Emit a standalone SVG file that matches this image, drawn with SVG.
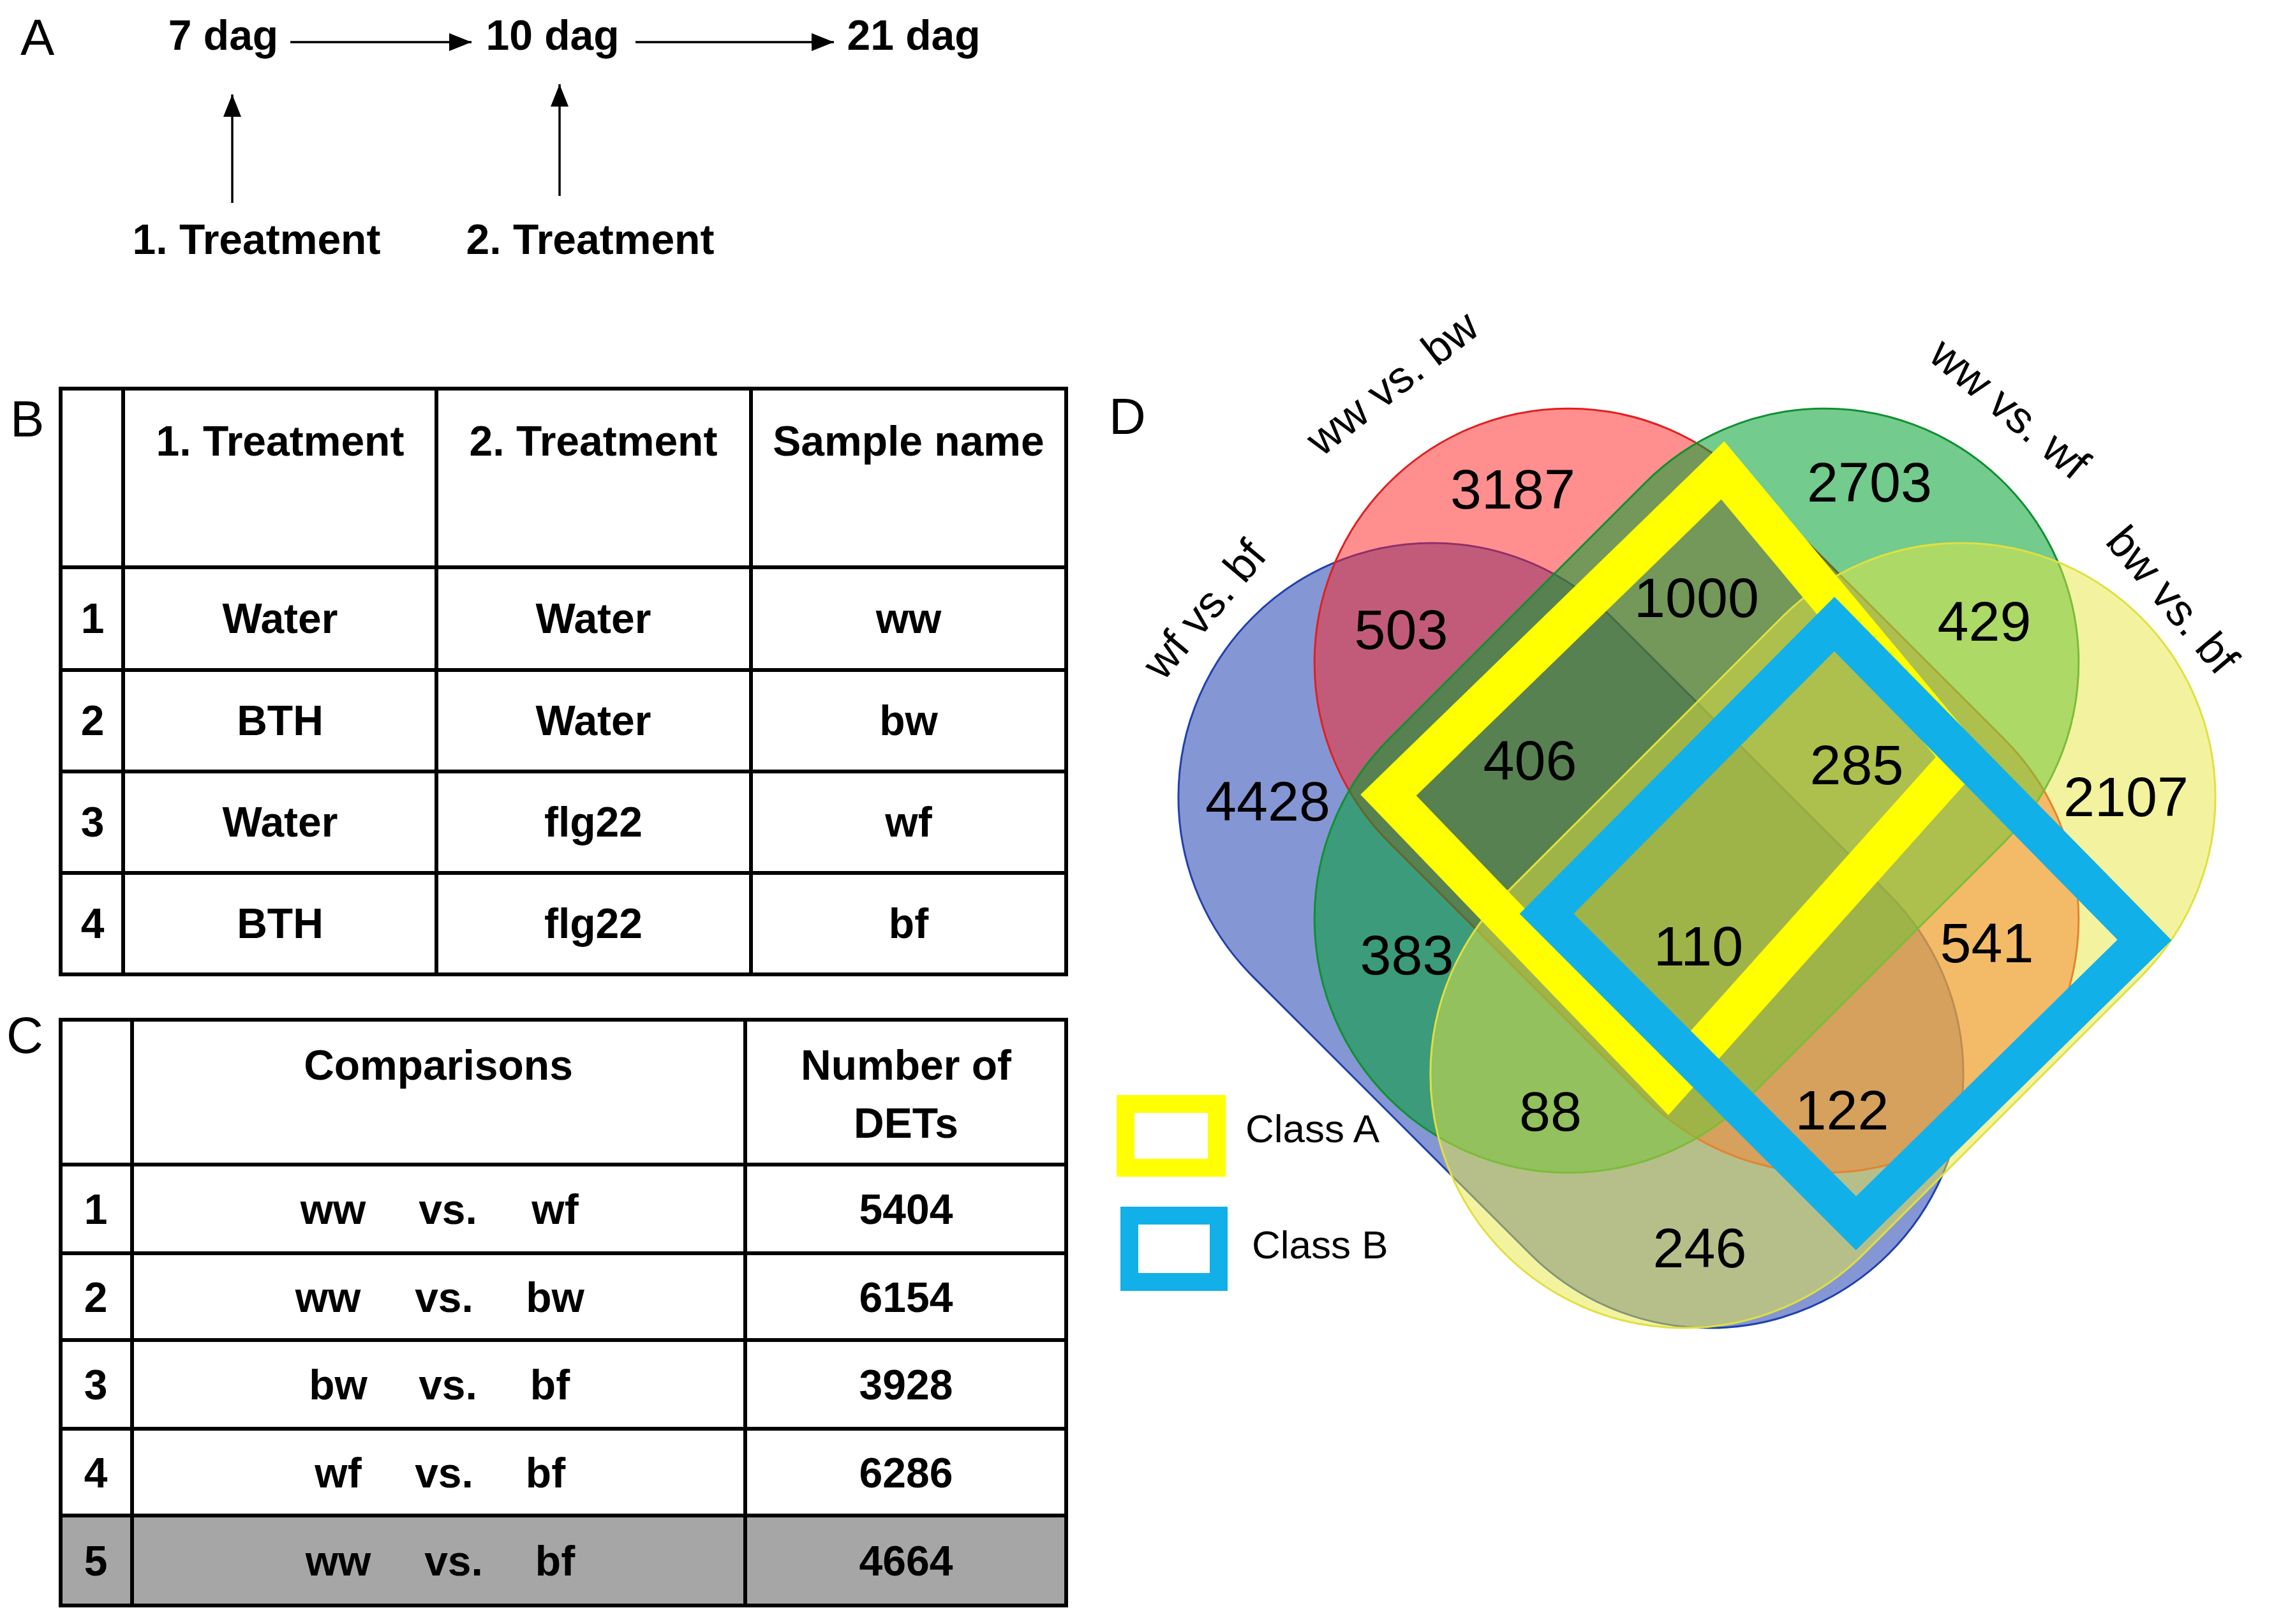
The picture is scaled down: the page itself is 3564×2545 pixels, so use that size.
<svg xmlns="http://www.w3.org/2000/svg" width="3564" height="2545" viewBox="0 0 3564 2545">
<defs>
<style>
.b{font-family:"Liberation Sans",Arial,sans-serif;font-weight:bold;font-size:66px;fill:#000;text-anchor:middle}
.r{font-family:"Liberation Sans",Arial,sans-serif;font-size:80px;fill:#000}
.n{font-family:"Liberation Sans",Arial,sans-serif;font-size:88px;fill:#000;text-anchor:middle;dominant-baseline:central}
.l{font-family:"Liberation Sans",Arial,sans-serif;font-size:70px;fill:#000;text-anchor:middle;dominant-baseline:central}
.c{font-family:"Liberation Sans",Arial,sans-serif;font-size:62px;fill:#000}
.tl{stroke:#000;stroke-width:6;fill:none}
.ar{stroke:#000;stroke-width:3.5;fill:none}
</style>
<marker id="ah2" viewBox="0 0 10 10" refX="10" refY="5" markerWidth="10" markerHeight="10" orient="auto"><path d="M0,1L10,5L0,9z" fill="#000"/></marker>
</defs>
<g id="panelA">
<text class="r" x="32" y="86">A</text>
<text class="b" x="350" y="78">7 dag</text>
<text class="b" x="866" y="78">10 dag</text>
<text class="b" x="1432" y="78">21 dag</text>
<text class="b" x="402" y="398">1. Treatment</text>
<text class="b" x="925" y="398">2. Treatment</text>
</g>
<g id="connectors">
<line class="ar" x1="455" y1="66" x2="739" y2="66" marker-end="url(#ah2)"/>
<line class="ar" x1="996" y1="66" x2="1307" y2="66" marker-end="url(#ah2)"/>
<line class="ar" x1="364" y1="318" x2="364" y2="148" marker-end="url(#ah2)"/>
<line class="ar" x1="877" y1="307" x2="877" y2="132" marker-end="url(#ah2)"/>
</g>
<g id="tableB">
<text class="r" x="16" y="684">B</text>
<rect class="tl" x="95" y="609" width="1576" height="918"/>
<path class="tl" d="M193,609V1527M684,609V1527M1177,609V1527M95,889H1671M95,1050H1671M95,1209H1671M95,1368H1671"/>
<text class="b" x="439" y="714">1. Treatment</text>
<text class="b" x="930" y="714">2. Treatment</text>
<text class="b" x="1424" y="714">Sample name</text>
<g class="b">
<text x="145" y="992">1</text><text x="439" y="992">Water</text><text x="930" y="992">Water</text><text x="1424" y="992">ww</text>
<text x="145" y="1152">2</text><text x="439" y="1152">BTH</text><text x="930" y="1152">Water</text><text x="1424" y="1152">bw</text>
<text x="145" y="1311">3</text><text x="439" y="1311">Water</text><text x="930" y="1311">flg22</text><text x="1424" y="1311">wf</text>
<text x="145" y="1470">4</text><text x="439" y="1470">BTH</text><text x="930" y="1470">flg22</text><text x="1424" y="1470">bf</text>
</g>
</g>
<g id="tableC">
<text class="r" x="10" y="1650">C</text>
<rect x="95" y="2375" width="1576" height="141" fill="#a6a6a6"/>
<rect class="tl" x="95" y="1598" width="1576" height="918"/>
<path class="tl" d="M207,1598V2516M1168,1598V2516M95,1825H1671M95,1964H1671M95,2100H1671M95,2239H1671M95,2375H1671"/>
<text class="b" x="687" y="1692">Comparisons</text>
<text class="b" x="1420" y="1692">Number of</text>
<text class="b" x="1420" y="1783">DETs</text>
<g class="b">
<text x="150" y="1918">1</text><text x="522" y="1918">ww</text><text x="702" y="1918">vs.</text><text x="870" y="1918">wf</text><text x="1420" y="1918">5404</text>
<text x="150" y="2056">2</text><text x="514" y="2056">ww</text><text x="696" y="2056">vs.</text><text x="870" y="2056">bw</text><text x="1420" y="2056">6154</text>
<text x="150" y="2193">3</text><text x="530" y="2193">bw</text><text x="702" y="2193">vs.</text><text x="862" y="2193">bf</text><text x="1420" y="2193">3928</text>
<text x="150" y="2331">4</text><text x="530" y="2331">wf</text><text x="696" y="2331">vs.</text><text x="855" y="2331">bf</text><text x="1420" y="2331">6286</text>
<text x="150" y="2469">5</text><text x="530" y="2469">ww</text><text x="711" y="2469">vs.</text><text x="870" y="2469">bf</text><text x="1420" y="2469">4664</text>
</g>
</g>
<g id="panelD">
<text class="r" x="1738" y="680">D</text>
<g id="set-wf-bf"><rect x="1757" y="1068" width="1410" height="796" rx="398" ry="398" transform="rotate(45 2462 1466)" fill="#2040b0" fill-opacity="0.55" stroke="#2040b0" stroke-width="3"/></g>
<g id="set-ww-bw"><rect x="1977" y="841" width="1364" height="796" rx="398" ry="398" transform="rotate(45 2659 1239)" fill="#ff2020" fill-opacity="0.5" stroke="#e02020" stroke-width="3"/></g>
<g id="set-ww-wf"><rect x="1977" y="841" width="1364" height="796" rx="398" ry="398" transform="rotate(-45 2659 1239)" fill="#00a030" fill-opacity="0.55" stroke="#109030" stroke-width="3"/></g>
<g id="set-bw-bf"><rect x="2152" y="1068" width="1410" height="796" rx="398" ry="398" transform="rotate(-45 2857 1466)" fill="#e8e840" fill-opacity="0.5" stroke="#e0e040" stroke-width="3"/></g>
<g id="classA"><polygon points="2176,1246 2700,737 3075,1187 2614,1702" fill="none" stroke="#ffff00" stroke-width="62" stroke-linejoin="miter"/></g>
<g id="classB"><polygon points="2424,1432 2875,978 3361,1473 2909,1917" fill="none" stroke="#12b0e8" stroke-width="60" stroke-linejoin="miter"/></g>
<g class="n">
<text x="2371" y="766">3187</text><text x="2930" y="755">2703</text>
<text x="2196" y="986">503</text><text x="2659" y="936">1000</text><text x="3110" y="973">429</text>
<text x="1987" y="1255">4428</text><text x="2398" y="1191">406</text><text x="2910" y="1198">285</text><text x="3332" y="1248">2107</text>
<text x="2205" y="1496">383</text><text x="2662" y="1482">110</text><text x="3114" y="1477">541</text>
<text x="2430" y="1741">88</text><text x="2887" y="1739">122</text><text x="2664" y="1955">246</text>
</g>
<g class="l">
<text transform="translate(1887,955) rotate(-50)">wf vs. bf</text>
<text transform="translate(2182,600) rotate(-38)">ww vs. bw</text>
<text transform="translate(3150,640) rotate(40)">ww vs. wf</text>
<text transform="translate(3405,940) rotate(50)">bw vs. bf</text>
</g>
<g id="legend">
<rect x="1764" y="1730" width="143" height="100" fill="none" stroke="#ffff00" stroke-width="28"/>
<rect x="1770" y="1905" width="140" height="104" fill="none" stroke="#12b0e8" stroke-width="28"/>
<text class="c" x="1952" y="1790">Class A</text>
<text class="c" x="1962" y="1972">Class B</text>
</g>
</g>
</svg>
